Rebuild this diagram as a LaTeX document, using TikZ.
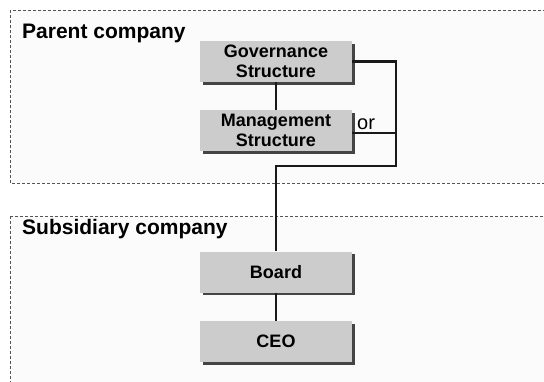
\documentclass[tikz,border=0pt]{standalone}
\usepackage{fontspec}
\setmainfont{Liberation Sans}
\usetikzlibrary{shadows}
\definecolor{boxgray}{HTML}{CCCCCC}
\definecolor{shadowgray}{HTML}{444444}
\definecolor{areagray}{HTML}{FBFBFB}
\definecolor{dashgray}{HTML}{555555}
\begin{document}
\begin{tikzpicture}[x=1pt,y=-1pt,
  area/.style={draw=dashgray, fill=areagray, line width=0.8pt, dash pattern=on 3pt off 2pt},
  orgbox/.style={fill=boxgray, minimum width=152pt, minimum height=41pt, inner sep=0pt,
    align=center, font=\fontsize{18}{20.5}\selectfont\bfseries,
    drop shadow={shadow xshift=2.5pt, shadow yshift=-2.5pt, fill=shadowgray, opacity=1}},
  heading/.style={anchor=base west, font=\fontsize{21}{24}\selectfont\bfseries, inner sep=0pt},
  link/.style={line width=2.4pt, draw=black!90}]
\useasboundingbox (0,0) rectangle (544,381);
\clip (0,0) rectangle (544,381);
\draw[area] (10,10) rectangle (570,183);
\draw[area] (10,216) rectangle (570,400);
\node[heading] (ph) at (22,38.5) {Parent company};
\node[heading] (sh) at (22,234.5) {Subsidiary company};
\node[orgbox] (gov) at (276,61.5) {Governance\\Structure};
\node[orgbox] (mgmt) at (276,130.5) {Management\\Structure};
\node[orgbox] (board) at (276,272) {Board};
\node[orgbox] (ceo) at (276,341.5) {CEO};
\coordinate (rt) at (396,61.5);
\coordinate (rb) at (396,166);
\coordinate (rm) at (396,133);
\draw[link] (gov) -- (mgmt);
\draw[link] (board) -- (ceo);
\draw[link] (gov.east) -- (rt) -- (rb) -- (board.north |- rb) -- (board.north);
\draw[link] (mgmt.east |- rm) -- (rm);
\node[anchor=base west, font=\fontsize{20}{22}\selectfont, inner sep=0pt] (or) at (357,129) {or};
\end{tikzpicture}
\end{document}
